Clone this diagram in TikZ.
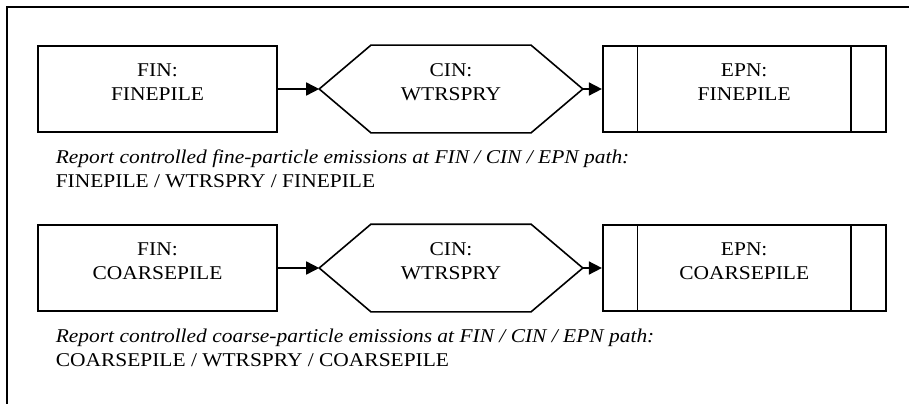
\documentclass[tikz,border=0pt]{standalone}
\usepackage{fontspec}
\setmainfont{Liberation Serif}[FakeStretch=1.1]
\usetikzlibrary{positioning, calc, arrows.meta}

\begin{document}
\begin{tikzpicture}[x=1pt, y=-1pt, line width=1.6pt,
    flowbox/.style={draw, minimum height=86pt, inner sep=0pt},
    hexbox/.style={minimum width=262pt, minimum height=86pt, inner sep=0pt},
    boxtext/.style={align=center, font=\fontsize{19.5}{24}\selectfont, yshift=7pt},
    caption/.style={anchor=base west, inner sep=0pt, font=\fontsize{19.5}{24}\selectfont},
    flow/.style={-{Triangle[length=13pt,width=13pt]}}]
    \useasboundingbox (0,0) rectangle (909,404);
    % Frame
    \draw[line width=2.2pt] (909,6.7) -- (7.3,6.7) -- (7.3,404);
    % Rows
    \foreach \row/\y/\pile/\kind in {1/89/FINEPILE/fine, 2/268/COARSEPILE/coarse} {
        \node[flowbox, minimum width=239pt] (fin\row) at (157.5,\y) {};
        \node[hexbox] (cin\row) at (451,\y) {};
        \node[flowbox, minimum width=283pt] (epn\row) at (744.2,\y) {};
        % Hexagon
        \draw (cin\row.west) -- ([xshift=51.7pt]cin\row.north west)
            -- ([xshift=-51.7pt]cin\row.north east) -- (cin\row.east)
            -- ([xshift=-51.7pt]cin\row.south east)
            -- ([xshift=51.7pt]cin\row.south west) -- cycle;
        % Side bars
        \draw ([xshift=35.6pt]epn\row.north west) -- ([xshift=35.6pt]epn\row.south west);
        \draw ([xshift=-35.6pt]epn\row.north east) -- ([xshift=-35.6pt]epn\row.south east);
        % Labels
        \node[boxtext] (fint\row) at (fin\row) {FIN:\\\pile};
        \node[boxtext] (cint\row) at (cin\row) {CIN:\\WTRSPRY};
        \node[boxtext] (epnt\row) at (epn\row) {EPN:\\\pile};
        % Arrows
        \draw[flow] (fin\row) -- (cin\row);
        \draw[flow] (cin\row) -- (epn\row);
        % Caption
        \node[caption] (cap\row) at ($(55,\y)+(0,74)$) {\textit{Report controlled \kind-particle emissions at FIN / CIN / EPN path:}};
        \node[caption] (path\row) at ($(cap\row.base west)+(0,24)$) {\pile{} / WTRSPRY / \pile};
    }
\end{tikzpicture}
\end{document}
